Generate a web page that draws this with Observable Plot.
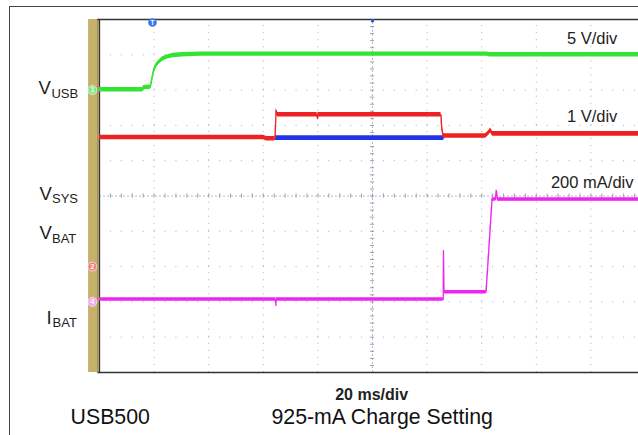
<!DOCTYPE html>
<html><head><meta charset="utf-8">
<script src="https://cdn.jsdelivr.net/npm/d3@7"></script>
<script src="https://cdn.jsdelivr.net/npm/@observablehq/plot@0.6"></script>
<style>
html,body{margin:0;padding:0;background:#fff;}
#wrap{position:relative;width:638px;height:435px;overflow:hidden;}
#outer{position:absolute;left:9px;top:6px;width:700px;height:500px;border-top:1.3px solid #444;border-left:1.3px solid #444;}
#wrap svg{position:absolute;left:0;top:0;}
</style></head><body>
<div id="wrap"><div id="outer"></div></div>
<script>
// ---- Trace data (time in ms relative to screen centre, physical units) ----
const vusbTime  = [-100, -84.2, -83.8, -81.4, -81.0, -80.3, -79.5, -78.4, -76.9, -75.1, -72.9, -69.6, -63.0, 42.1, 42.9, 100];
const vusbVolts = [0.05, 0.05, 0.35, 0.4, 1.1, 2.5, 3.35, 3.9, 4.4, 4.7, 4.9, 5.0, 5.1, 5.1, 5.0, 5.0];

const vsysTime  = [-100, -39.9, -38.8, -35.7, -35.3, -34.8, -20.3, -20.1, -20.0, 25.1, 25.3, 25.6, 26.0, 41.4, 42.5, 43.2, 44.0, 100];
const vsysVolts = [3.66, 3.66, 3.62, 3.62, 4.42, 4.30, 4.30, 4.20, 4.30, 4.30, 4.00, 3.83, 3.70, 3.70, 3.78, 3.86, 3.76, 3.76];

const vbatTime  = [-35.6, 26.1];
const vbatVolts = [3.64, 3.64];

const ibatTime  = [-100, -35.5, -35.4, -35.3, 25.9, 26.0, 26.2, 41.6, 43.8, 45.0, 45.4, 45.8, 100];
const ibatMilliamps = [14, 14, -20, 14, 14, 291, 55, 55, 580, 580, 631, 580, 580];

// ---- Channel settings: offset (divisions) and units per division ----
const channelNames   = ["VUSB", "VSYS", "VBAT", "IBAT"];
const channelOffsets = [3, -2, -2, -3];
const channelPerDiv  = [5, 1, 1, 200];
const channelColors  = ["#34e434", "#ee2222", "#2233e8", "#f024f0"];
const channelHalfWidth = [0.062, 0.064, 0.066, 0.05];

// ---- Grid (10 x 10 divisions, 20 ms/div) ----
const xMajor = d3.range(-100, 100.01, 20);
const yMajor = d3.range(-5, 5.01, 1);
const xMinor = d3.range(-100, 100.01, 4);
const yMinor = d3.range(-5, 5.01, 0.2);

// ---- Text ----
const sideMain = [
  {t: -122.3, y: 2.895, text: "V"},
  {t: -122.0, y: -0.108, text: "V"},
  {t: -122.0, y: -1.204, text: "V"},
  {t: -119.4, y: -3.62, text: "I"}
];
const sideSub = [
  {t: -117.6, y: 2.79, text: "USB"},
  {t: -117.4, y: -0.212, text: "SYS"},
  {t: -117.4, y: -1.331, text: "BAT"},
  {t: -117.2, y: -3.717, text: "BAT"}
];
const scaleLabels = [
  {t: 89.7, y: 4.312, text: "5 V/div"},
  {t: 89.7, y: 2.096, text: "1 V/div"},
  {t: 95.6, y: 0.232, text: "200 mA/div"}
];
const timebaseLabel = [{t: -0.3, y: -5.765, text: "20 ms/div"}];
const captions = [
  {t: -110.6, y: -6.453, text: "USB500"},
  {t: -37.0, y: -6.453, text: "925-mA Charge Setting"}
];
const channelMarkers = [
  {t: -102.6, y: 3, text: "1", color: "#80ec80"},
  {t: -102.6, y: -2, text: "2", color: "#f08080"},
  {t: -102.6, y: -3, text: "4", color: "#f4a8f4"}
];
const triggerMarker = [{t: -80.6, y: 4.915, text: "T"}];

// ---- Build rows ----
const series = [
  [vusbTime, vusbVolts],
  [vbatTime, vbatVolts],
  [vsysTime, vsysVolts],
  [ibatTime, ibatMilliamps]
];
const order = [0, 2, 1, 3]; // channel index for each series (draw order)
function rows(k) {
  const ci = order[k];
  const [time, vals] = series[k];
  return time.map((t, i) => ({t, d: channelOffsets[ci] + vals[i] / channelPerDiv[ci]}));
}

const traceMarks = [];
for (let k = 0; k < series.length; k++) {
  const ci = order[k];
  const data = rows(k);
  const h = channelHalfWidth[ci];
  traceMarks.push(Plot.areaY(data, {x: "t", y1: d => d.d - h, y2: d => d.d + h, fill: channelColors[ci], curve: "linear"}));
  traceMarks.push(Plot.line(data, {x: "t", y: "d", stroke: channelColors[ci], strokeWidth: 1.3, curve: "linear"}));
}

const font = "Liberation Sans, Arial, Helvetica, sans-serif";
const gridColor = "#a9adbd";

const chart = Plot.plot({
  width: 638, height: 435,
  marginTop: 0, marginRight: 0, marginBottom: 0, marginLeft: 0,
  x: {domain: [-100, 100], range: [99, 645], axis: null},
  y: {domain: [-5, 5], range: [372, 19], axis: null},
  style: {background: "transparent", fontFamily: font},
  marks: [
    // tan strip
    Plot.rect([{}], {x1: -104.0, x2: -100.4, y1: -5, y2: 5, fill: "#c6b16c"}),
    Plot.ruleX([-100.55], {y1: -5, y2: 5, stroke: "#8e7c40", strokeWidth: 1.2}),
    // grid
    Plot.ruleX(xMajor.filter(d => d !== 0 && d !== -100), {y1: -5, y2: 5, stroke: gridColor, strokeWidth: 1, strokeDasharray: "1,6.06"}),
    Plot.ruleY(yMajor.filter(d => d !== 0 && Math.abs(d) !== 5), {x1: -100, x2: 100, stroke: gridColor, strokeWidth: 1, strokeDasharray: "1,9.92"}),
    // centre axes with minor ticks
    Plot.ruleX([0], {y1: -5, y2: 5, stroke: "#b4b8c8", strokeWidth: 1, strokeDasharray: "2,2"}),
    Plot.ruleY([0], {x1: -100, x2: 100, stroke: "#b4b8c8", strokeWidth: 1, strokeDasharray: "2,2"}),
    Plot.ruleX(xMinor, {y1: -0.06, y2: 0.06, stroke: "#9ca0b4", strokeWidth: 1}),
    Plot.ruleY(yMinor, {x1: -0.75, x2: 0.75, stroke: "#9ca0b4", strokeWidth: 1}),
    // frame
    Plot.ruleY([5, -5], {x1: -100.6, x2: 100, stroke: "#333", strokeWidth: 1.6}),
    Plot.ruleX([-100], {y1: -5, y2: 5, stroke: "#333", strokeWidth: 1.3}),
    // traces
    ...traceMarks,
    // markers
    Plot.ruleX([0], {y1: 4.91, y2: 5, stroke: "#3050e0", strokeWidth: 3}),
    Plot.dot(channelMarkers, {x: "t", y: "y", r: 4.5, fill: "color", stroke: "white", strokeWidth: 0.6}),
    Plot.text(channelMarkers, {x: "t", y: "y", text: "text", fill: "white", fontSize: 7, fontWeight: "bold"}),
    Plot.dot(triggerMarker, {x: "t", y: "y", r: 4.3, fill: "#3a78e8"}),
    Plot.text(triggerMarker, {x: "t", y: "y", text: "text", fill: "white", fontSize: 6.5, fontWeight: "bold"}),
    // labels
    Plot.text(sideMain, {x: "t", y: "y", text: "text", textAnchor: "start", lineAnchor: "bottom", fontSize: 18.5, fill: "#222", fontFamily: font}),
    Plot.text(sideSub, {x: "t", y: "y", text: "text", textAnchor: "start", lineAnchor: "bottom", fontSize: 13, fill: "#222", fontFamily: font}),
    Plot.text(scaleLabels, {x: "t", y: "y", text: "text", textAnchor: "end", lineAnchor: "bottom", fontSize: 16.5, fill: "#222", fontFamily: font}),
    Plot.text(timebaseLabel, {x: "t", y: "y", text: "text", textAnchor: "middle", lineAnchor: "bottom", fontSize: 16, fontWeight: "bold", fill: "#222", fontFamily: font}),
    Plot.text(captions, {x: "t", y: "y", text: "text", textAnchor: "start", lineAnchor: "bottom", fontSize: 21.3, fill: "#111", fontFamily: font})
  ]
});
document.getElementById("wrap").appendChild(chart);
</script>
</body></html>
